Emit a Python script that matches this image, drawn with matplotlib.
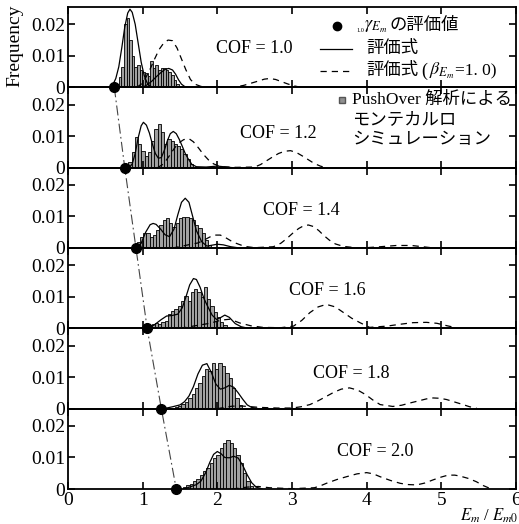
import numpy as np
import matplotlib
matplotlib.use("Agg")
import matplotlib.pyplot as plt
from matplotlib.lines import Line2D

plt.rcParams['font.family'] = ['Liberation Serif', 'Noto Sans CJK JP']
plt.rcParams['mathtext.fontset'] = 'stix'

nan = np.nan

# COF of each panel (top to bottom)
cof_labels = ["COF = 1.0", "COF = 1.2", "COF = 1.4", "COF = 1.6", "COF = 1.8", "COF = 2.0"]
cof_x = [2.49, 2.81, 3.13, 3.47, 3.79, 4.12]
cof_y = [0.0124, 0.0108, 0.0119, 0.0120, 0.0112, 0.0118]

# 1.0 gamma_Em estimates (black dots)
dot_x = [0.62, 0.76, 0.91, 1.06, 1.25, 1.45]

# PushOver Monte Carlo histograms: range and bar heights
hist_range = [(0.68, 1.52), (0.81, 1.72), (0.92, 1.92), (1.075, 2.17), (1.43, 2.33), (1.54, 2.48)]
hist_1 = [0.0033, 0.0065, 0.0200, 0.0220, 0.0150, 0.0100, 0.0065, 0.0070, 0.0055, 0.0050, 0.0045, 0.0035,
          0.0085, 0.0060, 0.0070, 0.0055, 0.0060, 0.0060, 0.0055, 0.0048, 0.0040, 0.0022, 0.0012, 0.0003]
hist_2 = [0.0017, 0.0049, 0.0096, 0.0075, 0.0054, 0.0038, 0.0049, 0.0086, 0.0123, 0.0139, 0.0112,
          0.0075, 0.0091, 0.0086, 0.0075, 0.0070, 0.0059, 0.0043, 0.0028, 0.0012, 0.0003]
hist_3 = [0.0020, 0.0036, 0.0047, 0.0047, 0.0036, 0.0040, 0.0057, 0.0073, 0.0089, 0.0094, 0.0078, 0.0068,
          0.0078, 0.0094, 0.0099, 0.0099, 0.0094, 0.0089, 0.0073, 0.0062, 0.0047, 0.0025, 0.0010]
hist_4 = [0.0008, 0.0014, 0.0016, 0.0014, 0.0019, 0.0024, 0.0045, 0.0056, 0.0061, 0.0072, 0.0088, 0.0104,
          0.0088, 0.0114, 0.0125, 0.0114, 0.0098, 0.0130, 0.0093, 0.0072, 0.0051, 0.0035, 0.0019, 0.0012, 0.0005]
hist_5 = [0.0005, 0.0008, 0.0014, 0.0022, 0.0035, 0.0045, 0.0067, 0.0083, 0.0104, 0.0125,
          0.0120, 0.0146, 0.0125, 0.0146, 0.0135, 0.0114, 0.0098, 0.0067, 0.0035, 0.0012]
hist_6 = [0.0005, 0.0012, 0.0016, 0.0024, 0.0033, 0.0045, 0.0056, 0.0067, 0.0083, 0.0098, 0.0109,
          0.0130, 0.0146, 0.0157, 0.0146, 0.0130, 0.0109, 0.0083, 0.0051, 0.0024, 0.0008]
hists = [hist_1, hist_2, hist_3, hist_4, hist_5, hist_6]

# evaluation formula (solid)
solid_x = [
    [0.56, 0.60, 0.64, 0.68, 0.72, 0.76, 0.80, 0.83, 0.86, 0.90, 0.94, 0.98, 1.02, 1.06, 1.10, 1.14, nan,
     1.00, 1.06, 1.12, 1.18, 1.24, 1.30, 1.35, 1.40, 1.44, 1.48, 1.52, 1.56, 1.60],
    [0.82, 0.86, 0.90, 0.94, 0.98, 1.01, 1.05, 1.09, 1.13, 1.17, 1.21, 1.25, 1.29, 1.33, 1.37, 1.41, 1.45,
     1.49, 1.53, 1.57, 1.61, 1.66, 1.72, 1.85, 2.00, 2.20],
    [0.92, 0.98, 1.04, 1.10, 1.14, 1.18, 1.24, 1.30, 1.36, 1.42, 1.47, 1.52, 1.57, 1.62, 1.67, 1.72, 1.79,
     1.86, 1.93, 2.00, 2.08, 2.18, 2.30],
    [1.05, 1.15, 1.25, 1.32, 1.40, 1.47, 1.53, 1.58, 1.63, 1.68, 1.72, 1.77, 1.82, 1.87, 1.93, 1.99, 2.05,
     2.10, 2.16, 2.24, 2.32, 2.42],
    [1.28, 1.40, 1.50, 1.56, 1.62, 1.68, 1.74, 1.80, 1.86, 1.92, 1.98, 2.04, 2.10, 2.16, 2.22, 2.28, 2.34,
     2.40, 2.46, 2.55],
    [1.55, 1.65, 1.72, 1.78, 1.84, 1.90, 1.95, 2.00, 2.05, 2.10, 2.16, 2.22, 2.28, 2.34, 2.40, 2.46, 2.52, 2.60],
]
solid_y = [
    [0, 0.0008, 0.0028, 0.0065, 0.0125, 0.0191, 0.0236, 0.0248, 0.0238, 0.0200, 0.0140, 0.0080, 0.0038,
     0.0014, 0.0004, 0, nan,
     0, 0.0008, 0.0019, 0.0033, 0.0046, 0.0057, 0.0060, 0.0055, 0.0042, 0.0024, 0.0010, 0.0003, 0],
    [0, 0.0012, 0.0045, 0.0095, 0.0133, 0.0144, 0.0135, 0.0110, 0.0075, 0.0045, 0.0030, 0.0032, 0.0055,
     0.0085, 0.0108, 0.0115, 0.0108, 0.0090, 0.0068, 0.0045, 0.0028, 0.0010, 0.0003, 0.0002, 0.0005, 0],
    [0, 0.0015, 0.0050, 0.0074, 0.0078, 0.0075, 0.0060, 0.0042, 0.0036, 0.0060, 0.0105, 0.0145, 0.0158,
     0.0145, 0.0100, 0.0055, 0.0020, 0.0006, 0.0009, 0.0012, 0.0010, 0.0004, 0],
    [0, 0.0010, 0.0028, 0.0039, 0.0041, 0.0045, 0.0065, 0.0100, 0.0138, 0.0158, 0.0155, 0.0130, 0.0095,
     0.0070, 0.0042, 0.0028, 0.0035, 0.0042, 0.0035, 0.0015, 0.0005, 0],
    [0, 0.0006, 0.0012, 0.0022, 0.0040, 0.0070, 0.0110, 0.0138, 0.0143, 0.0115, 0.0078, 0.0062, 0.0066,
     0.0074, 0.0068, 0.0050, 0.0030, 0.0012, 0.0004, 0],
    [0, 0.0008, 0.0014, 0.0025, 0.0050, 0.0085, 0.0110, 0.0119, 0.0112, 0.0100, 0.0099, 0.0104, 0.0098,
     0.0075, 0.0045, 0.0020, 0.0006, 0],
]

# evaluation formula with beta_Em = 1.0 (dashed)
dash_x = [
    [0.92, 0.98, 1.04, 1.10, 1.16, 1.22, 1.28, 1.34, 1.40, 1.46, 1.52, 1.58, 1.64, 1.70, 1.78, 1.88, 2.20,
     2.35, 2.45, 2.55, 2.63, 2.70, 2.78, 2.86, 2.94, 3.02, 3.12],
    [1.20, 1.28, 1.35, 1.42, 1.48, 1.55, 1.62, 1.68, 1.75, 1.81, 1.88, 1.95, 2.05, 2.25, 2.50, 2.58, 2.66,
     2.74, 2.82, 2.90, 2.98, 3.06, 3.14, 3.22, 3.30, 3.38, 3.45],
    [1.40, 1.55, 1.65, 1.74, 1.82, 1.90, 1.97, 2.04, 2.11, 2.18, 2.24, 2.32, 2.40, 2.50, 2.75, 2.85, 2.93,
     3.01, 3.09, 3.16, 3.22, 3.29, 3.36, 3.42, 3.50, 3.58, 3.69, 3.85, 4.00, 4.18, 4.40, 4.60, 4.75, 4.90],
    [1.50, 1.70, 1.90, 2.05, 2.17, 2.30, 2.45, 2.61, 2.85, 3.02, 3.13, 3.24, 3.35, 3.46, 3.58, 3.69, 3.80,
     3.91, 4.04, 4.27, 4.45, 4.62, 4.80, 4.94, 5.08, 5.20],
    [2.00, 2.20, 2.35, 2.57, 2.80, 3.00, 3.12, 3.24, 3.35, 3.46, 3.56, 3.66, 3.77, 3.88, 3.99, 4.08, 4.18,
     4.35, 4.47, 4.58, 4.70, 4.80, 4.89, 4.98, 5.07, 5.18, 5.29, 5.38, 5.47],
    [2.20, 2.40, 2.55, 2.70, 3.00, 3.30, 3.38, 3.46, 3.60, 3.73, 3.87, 4.00, 4.09, 4.18, 4.32, 4.45, 4.56,
     4.67, 4.78, 4.89, 5.00, 5.09, 5.18, 5.25, 5.37, 5.47, 5.56, 5.65],
]
dash_y = [
    [0, 0.0010, 0.0030, 0.0058, 0.0090, 0.0120, 0.0140, 0.0150, 0.0148, 0.0125, 0.0090, 0.0055, 0.0025,
     0.0010, 0.0003, 0, 0, 0.0006, 0.0013, 0.0020, 0.0026, 0.0028, 0.0025, 0.0018, 0.0011, 0.0005, 0],
    [0, 0.0012, 0.0035, 0.0060, 0.0078, 0.0089, 0.0092, 0.0082, 0.0062, 0.0043, 0.0025, 0.0012, 0.0003,
     0.0001, 0.0002, 0.0010, 0.0022, 0.0034, 0.0045, 0.0052, 0.0054, 0.0048, 0.0037, 0.0025, 0.0013,
     0.0005, 0],
    [0, 0.0007, 0.0012, 0.0016, 0.0025, 0.0035, 0.0041, 0.0041, 0.0033, 0.0023, 0.0016, 0.0009, 0.0004,
     0.0001, 0.0004, 0.0015, 0.0030, 0.0047, 0.0062, 0.0071, 0.0073, 0.0068, 0.0055, 0.0041, 0.0025,
     0.0013, 0.0005, 0.0001, 0.0001, 0.0004, 0.0008, 0.0008, 0.0004, 0],
    [0, 0.0008, 0.0016, 0.0026, 0.0029, 0.0017, 0.0008, 0.0003, 0.0002, 0.0007, 0.0025, 0.0050, 0.0068,
     0.0076, 0.0068, 0.0050, 0.0032, 0.0018, 0.0003, 0.0007, 0.0013, 0.0018, 0.0019, 0.0016, 0.0008, 0.0002],
    [0, 0.0008, 0.0008, 0.0004, 0.0002, 0.0002, 0.0006, 0.0013, 0.0025, 0.0039, 0.0052, 0.0062, 0.0066,
     0.0059, 0.0044, 0.0028, 0.0013, 0.0007, 0.0011, 0.0018, 0.0025, 0.0031, 0.0034, 0.0033, 0.0029,
     0.0021, 0.0013, 0.0006, 0.0002],
    [0, 0.0006, 0.0008, 0.0004, 0.0001, 0.0004, 0.0010, 0.0018, 0.0030, 0.0039, 0.0048, 0.0052, 0.0048,
     0.0039, 0.0027, 0.0018, 0.0014, 0.0013, 0.0019, 0.0029, 0.0038, 0.0044, 0.0044, 0.0041, 0.0033,
     0.0023, 0.0011, 0.0002],
]

W, H = 519, 524
fig = plt.figure(figsize=(W / 100, H / 100), dpi=100)
left, right, top, bottom = 68 / W, 516 / W, 1 - 7 / H, 1 - 489 / H
axes = fig.subplots(6, 1, sharex=True, gridspec_kw=dict(hspace=0))
fig.subplots_adjust(left=left, right=right, top=top, bottom=bottom)

dashes = (0, (5, 4))
for i, ax in enumerate(axes):
    lo, hi = hist_range[i]
    edges = np.linspace(lo, hi, len(hists[i]) + 1)
    ax.bar(edges[:-1], hists[i], width=np.diff(edges), align='edge',
           color='#a0a0a0', edgecolor='black', linewidth=0.6)
    ax.plot(solid_x[i], solid_y[i], color='black', lw=0.9)
    ax.plot(dash_x[i], dash_y[i], color='black', lw=0.9, linestyle=dashes)
    ax.text(cof_x[i], cof_y[i], cof_labels[i], ha='center', va='center', fontsize=13)

    ax.set_xlim(0, 6)
    ax.set_ylim(0, 0.0255)
    ax.set_yticks([0, 0.01, 0.02], ['0', '0.01', '0.02'])
    ax.set_xticks(range(7))
    ax.tick_params(direction='in', top=True, right=True, length=5, width=1.2,
                   labelsize=14, pad=2)
    ax.set_facecolor('none')
    for sp in ax.spines.values():
        sp.set_linewidth(1.3)
    if i < 5:
        ax.tick_params(labelbottom=False)

axes[-1].set_xticklabels([str(v) for v in range(7)])

# dash-dot line through the estimate dots across all panels
ov = fig.add_axes([left, bottom, right - left, top - bottom])
ov.set_xlim(0, 6)
ov.set_ylim(0, 6)
ov.axis('off')
panel_zero = [5, 4, 3, 2, 1, 0]
ov.plot(dot_x, panel_zero, color='#444444', lw=0.8, linestyle=(0, (9, 3, 1.5, 3)), clip_on=False)
ov.plot(dot_x, panel_zero, 'o', color='black', markersize=7, clip_on=False)

# axis labels
fig.text(15 / W, 1 - 46 / H, 'Frequency', rotation=90, ha='center', va='center', fontsize=14)
fig.text(518 / W, 1 - 516 / H, r'$E_m$ / $E_{m0}$', ha='right', va='center', fontsize=12)


# hand-placed legend (pixel positions)
def fx(px):
    return px / W


def fy(py):
    return 1 - py / H


fig.add_artist(Line2D([fx(337)], [fy(26)], marker='o', color='black', markersize=6, linestyle='none'))
fig.text(fx(356), fy(30), '1.0', fontsize=4.5, ha='left', va='center')
fig.text(fx(364), fy(26), r'$\gamma_{E_m}$', fontsize=13, ha='left', va='center')
fig.text(fx(389), fy(26), 'の評価値', fontsize=12.5, ha='left', va='center')

fig.add_artist(Line2D([fx(320), fx(352)], [fy(49), fy(49)], color='black', lw=0.9))
fig.text(fx(366), fy(49), '評価式', fontsize=12.5, ha='left', va='center')

fig.add_artist(Line2D([fx(320), fx(352)], [fy(71), fy(71)], color='black', lw=0.9, linestyle=dashes))
fig.text(fx(366), fy(71), '評価式', fontsize=12.5, ha='left', va='center')
fig.text(fx(421), fy(71), '(', fontsize=13, ha='left', va='center')
fig.text(fx(429), fy(71), r'$\beta_{E_m}$', fontsize=13, ha='left', va='center')
fig.text(fx(455), fy(71), '=1. 0)', fontsize=12.5, ha='left', va='center')

fig.add_artist(Line2D([fx(342)], [fy(100)], marker='s', color='#909090', markeredgecolor='#555555',
                      markersize=4.5, linestyle='none'))
fig.text(fx(352), fy(100), 'PushOver 解析による', fontsize=12.5, ha='left', va='center')
fig.text(fx(352), fy(120), 'モンテカルロ', fontsize=12.5, ha='left', va='center')
fig.text(fx(352), fy(140), 'シミュレーション', fontsize=12.5, ha='left', va='center')

fig.savefig('out.png', dpi=100)
